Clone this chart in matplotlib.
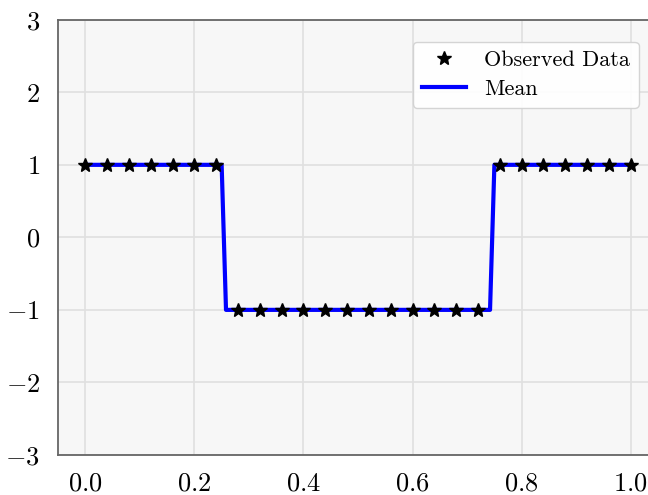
import numpy as np
import matplotlib
matplotlib.use("Agg")
import matplotlib.pyplot as plt

plt.rcParams['font.family'] = 'serif'
plt.rcParams['font.serif'] = ['cmr10']
plt.rcParams['mathtext.fontset'] = 'cm'
plt.rcParams['axes.formatter.use_mathtext'] = True
plt.rcParams['axes.unicode_minus'] = True

# observed data
x_obs = [0.00, 0.04, 0.08, 0.12, 0.16, 0.20, 0.24,
         0.28, 0.32, 0.36, 0.40, 0.44, 0.48, 0.52, 0.56, 0.60, 0.64, 0.68, 0.72,
         0.76, 0.80, 0.84, 0.88, 0.92, 0.96, 1.00]
y_obs = [1, 1, 1, 1, 1, 1, 1,
         -1, -1, -1, -1, -1, -1, -1, -1, -1, -1, -1, -1,
         1, 1, 1, 1, 1, 1, 1]

# predicted mean (step shape)
x_mean = [0.0, 0.25, 0.258, 0.742, 0.75, 1.0]
y_mean = [1, 1, -1, -1, 1, 1]

fig = plt.figure(figsize=(6.48, 4.95), dpi=100)
ax = fig.add_axes([0.0895, 0.081, 0.926, 0.879])
ax.set_facecolor('#f7f7f7')

ax.plot(x_obs, y_obs, '*', color='black', markersize=10, label='Observed Data', zorder=3)
ax.plot(x_mean, y_mean, '-', color='blue', lw=3, label='Mean', zorder=2)

ax.set_xlim(-0.05, 1.05)
ax.set_ylim(-3, 3)
ax.set_xticks([0.0, 0.2, 0.4, 0.6, 0.8, 1.0])
ax.set_yticks([-3, -2, -1, 0, 1, 2, 3])
ax.grid(True, color='#e0e0e0', lw=1.2)
ax.set_axisbelow(True)
for s in ax.spines.values():
    s.set_color('#666666')
    s.set_linewidth(1.3)
ax.tick_params(length=0, labelsize=19)
ax.tick_params(axis='y', pad=13)
ax.tick_params(axis='x', pad=12)

leg = ax.legend(loc='upper left', bbox_to_anchor=(0.573, 0.975), fontsize=16,
                frameon=True, fancybox=True, framealpha=0.9, borderpad=0.4,
                handlelength=2.0, labelspacing=0.4, handletextpad=0.8)
leg.get_frame().set_edgecolor('#d0d0d0')

fig.savefig('out.png', dpi=100)
